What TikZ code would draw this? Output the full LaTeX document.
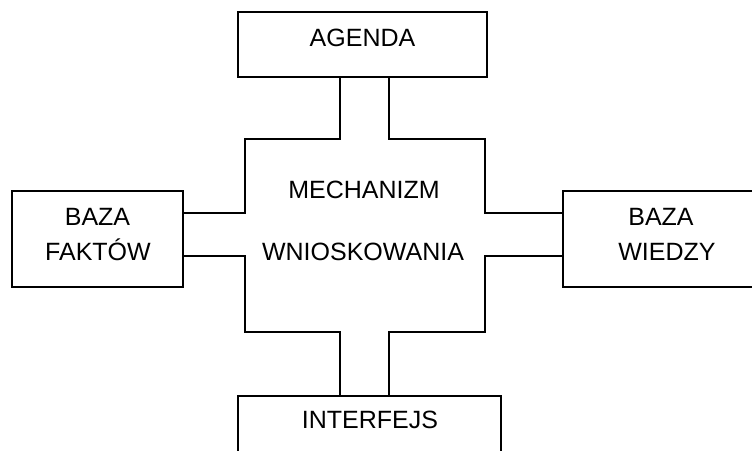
\documentclass[tikz,border=0pt]{standalone}
\usepackage{fontspec}
\setmainfont{Liberation Sans}
\begin{document}
\begin{tikzpicture}[x=1pt,y=-1pt,line width=1.3pt,
  box/.style={draw,rectangle,inner sep=0pt,outer sep=0pt},
  lbl/.style={anchor=base,inner sep=0pt,font=\fontsize{25}{30}\selectfont}]
\useasboundingbox (0,0) rectangle (752,450);
\clip (0,0) rectangle (752,450);
% boxes
\node[box,minimum width=249pt,minimum height=65pt] (agenda) at (362.5,44.5) {};
\node[box,minimum width=171pt,minimum height=96pt] (bf) at (97.5,239) {};
\node[box,minimum width=217pt,minimum height=96pt] (bw) at (671.5,239) {};
\node[box,minimum width=263pt,minimum height=74pt] (intf) at (369.5,433) {};
% labels
\node[lbl] (tA) at (362.5,46.5) {AGENDA};
\node[lbl] (tB1) at (97.5,225) {BAZA};
\node[lbl] (tB2) at (98,260) {FAKTÓW};
\node[lbl] (tW1) at (661,225) {BAZA};
\node[lbl] (tW2) at (667,260) {WIEDZY};
\node[lbl] (tM1) at (364,198) {MECHANIZM};
\node[lbl] (tM2) at (363,260) {WNIOSKOWANIA};
\node[lbl] (tI) at (370,428) {INTERFEJS};
% guide coordinates
\coordinate (xl) at (340,0);
\coordinate (xr) at (389,0);
\coordinate (xL) at (245,0);
\coordinate (xR) at (485,0);
\coordinate (yt) at (0,139);
\coordinate (yb) at (0,332);
\coordinate (yu) at (0,213);
\coordinate (yd) at (0,256);
% cross outline connectors
\draw (agenda.south -| xl) -- (xl |- yt) -- (xL |- yt) -- (xL |- yu) -- (bf.east |- yu);
\draw (bf.east |- yd) -- (xL |- yd) -- (xL |- yb) -- (xl |- yb) -- (intf.north -| xl);
\draw (intf.north -| xr) -- (xr |- yb) -- (xR |- yb) -- (xR |- yd) -- (bw.west |- yd);
\draw (bw.west |- yu) -- (xR |- yu) -- (xR |- yt) -- (xr |- yt) -- (agenda.south -| xr);
\end{tikzpicture}
\end{document}
